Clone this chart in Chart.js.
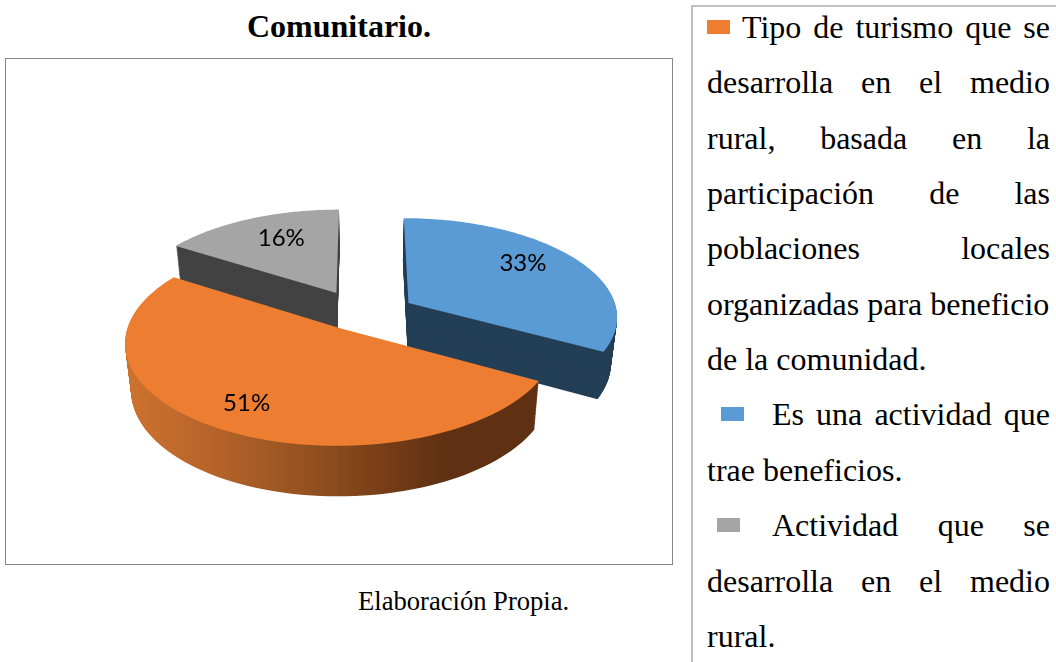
<!DOCTYPE html>
<html>
<head>
<meta charset="utf-8">
<script src="https://cdn.jsdelivr.net/npm/chart.js@4"></script>
<style>
  html, body { margin: 0; padding: 0; background: #fff; }
  body { width: 1056px; height: 662px; overflow: hidden; position: relative; font-family: "Liberation Serif", serif; color: #000; }
  .title { position: absolute; left: 5px; width: 668px; top: 8px; text-align: center; font-weight: bold; font-size: 32px; line-height: 36px; }
  .frame { position: absolute; left: 5px; top: 58px; width: 666px; height: 505px; border: 1px solid #868686; }
  #pie { position: absolute; left: 53px; top: 60px; }
  .source { position: absolute; left: 358px; top: 586px; font-size: 26.6px; line-height: 30px; white-space: nowrap; }
  .box { position: absolute; left: 691px; top: 5px; width: 365px; height: 657px; border-left: 2px solid #bfbfbf; border-top: 2px solid #bfbfbf; box-sizing: border-box; }
  .line { position: absolute; left: 707px; width: 343px; font-size: 32px; line-height: 36px; white-space: nowrap; }
  .line.just { white-space: normal; text-align: justify; text-align-last: justify; }
  .key { position: absolute; width: 23px; height: 14px; }
</style>
</head>
<body>
<div class="title">Comunitario.</div>
<div class="frame"></div>
<canvas id="pie" width="618" height="500"></canvas>
<div class="source">Elaboración Propia.</div>
<div class="box"></div>
<script>
var categories = ['Es una actividad que trae beneficios.', 'Tipo de turismo', 'Actividad rural'];
var values = [33, 51, 16];
var topColors = ['#5B9BD5', '#ED7D31', '#A5A5A5'];
var wallColors = ['#243F56', null, '#434343'];

// legend text, one entry per printed line
var legendLines = [
    'Tipo de turismo que se',
    'desarrolla en el medio',
    'rural, basada en la',
    'participación de las',
    'poblaciones locales',
    'organizadas para beneficio',
    'de la comunidad.',
    'Es una actividad que',
    'trae beneficios.',
    'Actividad que se',
    'desarrolla en el medio',
    'rural.'
];
var lastLines = [5, 6, 8, 11];
var lineIndent = { 0: 35, 7: 65, 9: 65 };
var keyLines = [[0, 1, 707], [7, 0, 721], [9, 2, 717]];

legendLines.forEach(function (text, i) {
    var div = document.createElement('div');
    div.className = 'line' + (lastLines.indexOf(i) < 0 ? ' just' : '');
    div.textContent = text;
    var indent = lineIndent[i] || 0;
    div.style.left = (707 + indent) + 'px';
    div.style.width = (343 - indent) + 'px';
    div.style.top = (9 + i * 55.35) + 'px';
    document.body.appendChild(div);
});
keyLines.forEach(function (k) {
    var div = document.createElement('div');
    div.className = 'key';
    div.style.left = k[2] + 'px';
    div.style.top = (20 + k[0] * 55.35) + 'px';
    div.style.background = topColors[k[1]];
    document.body.appendChild(div);
});

// the tilted disc: a simple perspective map of the flat pie
var tilt = 0.468;
var persp = 0.0006;
var explode = 50;
var explodeDepth = 0.85;
var thickness = 46;
var shrink = 0.025;
var sliceNudge = [[4, 3], [5, 1], [-2, 0]];
var labelReach = 0.72;
var labelNudge = [[-6, -6], [-7, 6], [9, 0]];

function project(arc, u, v, t) {
    var d = 1 - persp * v;
    var s = 1 - shrink * t;
    return [arc.x + s * u / d, arc.y + s * tilt * v / d + t * thickness / d];
}

function apex(arc) {
    var mid = (arc.startAngle + arc.endAngle) / 2;
    return [Math.cos(mid) * explode, Math.sin(mid) * explode * explodeDepth];
}

function slicePath(ctx, arc, t) {
    var a = apex(arc);
    var p = project(arc, a[0], a[1], t);
    ctx.beginPath();
    ctx.moveTo(p[0], p[1]);
    var steps = 90;
    for (var i = 0; i <= steps; i++) {
        var ang = arc.startAngle + (arc.endAngle - arc.startAngle) * i / steps;
        p = project(arc, a[0] + Math.cos(ang) * arc.outerRadius, a[1] + Math.sin(ang) * arc.outerRadius, t);
        ctx.lineTo(p[0], p[1]);
    }
    ctx.closePath();
}

function orangeWall(ctx, arc) {
    var g = ctx.createLinearGradient(arc.x - 232, 0, arc.x + 180, 0);
    g.addColorStop(0, '#CB712E');
    g.addColorStop(0.2, '#B5632A');
    g.addColorStop(0.45, '#8F4E1F');
    g.addColorStop(0.62, '#743C16');
    g.addColorStop(0.75, '#5F3012');
    g.addColorStop(1, '#5F3012');
    return g;
}

var tiltedPie = {
    id: 'tiltedPie',
    beforeDatasetsDraw: function (chart) {
        var ctx = chart.ctx;
        var arcs = chart.getDatasetMeta(0).data;
        // back slices first, the orange one overlaps the others
        [2, 0, 1].forEach(function (i) {
            var arc = arcs[i];
            ctx.save();
            ctx.translate(sliceNudge[i][0], sliceNudge[i][1]);
            ctx.fillStyle = wallColors[i] || orangeWall(ctx, arc);
            for (var k = 60; k >= 1; k--) {
                slicePath(ctx, arc, k / 60);
                ctx.fill();
            }
            slicePath(ctx, arc, 0);
            ctx.fillStyle = topColors[i];
            ctx.fill();
            ctx.restore();
        });
        ctx.fillStyle = '#000';
        ctx.font = '24px Lato';
        ctx.textAlign = 'center';
        ctx.textBaseline = 'middle';
        arcs.forEach(function (arc, i) {
            var a = apex(arc);
            var mid = (arc.startAngle + arc.endAngle) / 2;
            var reach = labelReach * arc.outerRadius;
            var p = project(arc, a[0] + Math.cos(mid) * reach, a[1] + Math.sin(mid) * reach, 0);
            ctx.fillText(values[i] + '%', p[0] + sliceNudge[i][0] + labelNudge[i][0], p[1] + sliceNudge[i][1] + labelNudge[i][1]);
        });
        return false;
    }
};

new Chart(document.getElementById('pie').getContext('2d'), {
    type: 'pie',
    data: {
        labels: categories,
        datasets: [{
            data: values,
            backgroundColor: topColors,
            borderWidth: 0,
            radius: 209
        }]
    },
    options: {
        responsive: false,
        animation: false,
        plugins: { legend: { display: false }, tooltip: { enabled: false } }
    },
    plugins: [tiltedPie]
});
</script>
</body>
</html>
